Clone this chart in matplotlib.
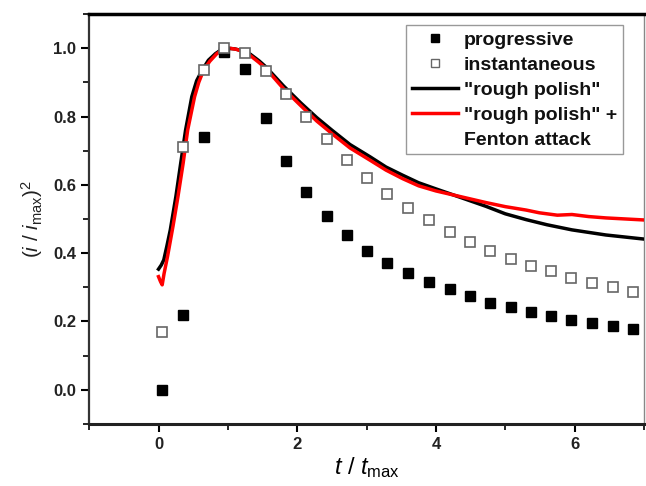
import matplotlib
matplotlib.use("Agg")
from matplotlib import pyplot as plt
from matplotlib.lines import Line2D
from matplotlib.ticker import MultipleLocator

# symbols: model transients
t_pts = [0.05, 0.35, 0.65, 0.95, 1.25, 1.55, 1.84, 2.13, 2.43, 2.72, 3.01,
         3.30, 3.60, 3.90, 4.20, 4.49, 4.78, 5.08, 5.37, 5.66, 5.95, 6.25,
         6.55, 6.84]
progressive = [0.0, 0.22, 0.74, 0.99, 0.94, 0.795, 0.67, 0.58, 0.51, 0.453,
               0.407, 0.371, 0.342, 0.316, 0.295, 0.274, 0.255, 0.242, 0.228,
               0.216, 0.205, 0.195, 0.187, 0.178]
instantaneous = [0.17, 0.71, 0.935, 1.0, 0.985, 0.932, 0.865, 0.798, 0.734,
                 0.674, 0.62, 0.574, 0.532, 0.497, 0.462, 0.433, 0.406, 0.383,
                 0.363, 0.348, 0.328, 0.313, 0.301, 0.287]

# measured curves
t_rough = [0.0, 0.04, 0.076, 0.12, 0.17, 0.25, 0.32, 0.39, 0.48, 0.55, 0.63,
           0.72, 0.82, 0.9, 1.0, 1.1, 1.2, 1.32, 1.45, 1.55, 1.8, 2.05, 2.28,
           2.5, 2.76, 3.05, 3.28, 3.52, 3.75, 4.0, 4.34, 4.72, 5.0, 5.3, 5.6,
           5.96, 6.45, 7.0]
rough = [0.353, 0.365, 0.38, 0.42, 0.468, 0.565, 0.663, 0.76, 0.858, 0.905,
         0.936, 0.965, 0.984, 0.995, 1.0, 0.998, 0.993, 0.983, 0.963, 0.945,
         0.89, 0.84, 0.797, 0.76, 0.718, 0.682, 0.652, 0.628, 0.606, 0.588,
         0.564, 0.537, 0.515, 0.498, 0.483, 0.468, 0.453, 0.441]

t_fenton = [0.0, 0.03, 0.053, 0.08, 0.13, 0.21, 0.28, 0.355, 0.42, 0.52, 0.58,
            0.65, 0.74, 0.84, 0.93, 1.02, 1.12, 1.22, 1.32, 1.45, 1.55, 1.8,
            2.05, 2.28, 2.5, 2.76, 3.05, 3.28, 3.52, 3.75, 4.0, 4.34, 4.72,
            5.0, 5.3, 5.49, 5.75, 5.96, 6.2, 6.45, 7.0]
fenton = [0.331, 0.316, 0.307, 0.34, 0.39, 0.48, 0.565, 0.663, 0.76, 0.858,
          0.9, 0.936, 0.962, 0.984, 0.996, 1.0, 0.997, 0.99, 0.979, 0.958,
          0.94, 0.882, 0.832, 0.787, 0.75, 0.708, 0.672, 0.643, 0.618, 0.597,
          0.582, 0.566, 0.548, 0.536, 0.526, 0.518, 0.511, 0.513, 0.507,
          0.503, 0.497]


def main():
    plt.rcParams['font.family'] = ['Liberation Sans', 'DejaVu Sans']
    plt.rcParams['mathtext.fontset'] = 'custom'
    plt.rcParams['mathtext.rm'] = 'Liberation Sans'
    plt.rcParams['mathtext.it'] = 'Liberation Sans:italic'

    fig = plt.figure(figsize=(6.46, 4.86), dpi=100)
    ax = fig.add_axes([0.138, 0.128, 0.859, 0.843])

    ax.plot(t_rough, rough, color='black', lw=2.5, zorder=3,
            solid_joinstyle='round')
    ax.plot(t_fenton, fenton, color='red', lw=2.5, zorder=4,
            solid_joinstyle='round')
    ax.plot(t_pts, progressive, 's', color='black', ms=7, zorder=5)
    ax.plot(t_pts, instantaneous, 's', mfc='white', mec='#666666', mew=1.2,
            ms=7, zorder=5)

    ax.set_xlim(-1, 7)
    ax.set_ylim(-0.1, 1.1)
    ax.xaxis.set_major_locator(MultipleLocator(2))
    ax.xaxis.set_minor_locator(MultipleLocator(1))
    ax.yaxis.set_major_locator(MultipleLocator(0.2))
    ax.yaxis.set_minor_locator(MultipleLocator(0.1))
    ax.yaxis.set_major_formatter(
        matplotlib.ticker.FuncFormatter(lambda v, p: "%.1f" % v))
    ax.tick_params(which='major', direction='out', length=6, width=1.5,
                   labelsize=12)
    ax.tick_params(which='minor', direction='out', length=4, width=1.2)
    ax.tick_params(top=False, right=False, which='both')
    for lbl in ax.get_xticklabels() + ax.get_yticklabels():
        lbl.set_fontweight('bold')
        lbl.set_color('#222222')

    ax.spines['top'].set_linewidth(2.5)
    ax.spines['bottom'].set_linewidth(2.2)
    ax.spines['bottom'].set_color('#222222')
    ax.spines['left'].set_linewidth(1.6)
    ax.spines['left'].set_color('#333333')
    ax.spines['right'].set_linewidth(1.0)
    ax.spines['right'].set_color('#888888')

    ax.set_xlabel(r'$t\ /\ t_{\mathrm{max}}$', fontsize=17, labelpad=2)
    ax.set_ylabel(r'$(i\ /\ i_{\mathrm{max}})^2$', fontsize=15, labelpad=6,
                  color='#222222')

    handles = [
        Line2D([], [], ls='none', marker='s', color='black', ms=5.5),
        Line2D([], [], ls='none', marker='s', mfc='white', mec='#666666',
               mew=1.0, ms=5.5),
        Line2D([], [], color='black', lw=2.5),
        Line2D([], [], color='red', lw=2.5),
        Line2D([], [], ls='none'),
    ]
    labels = ['progressive', 'instantaneous', '"rough polish"',
              '"rough polish" +', 'Fenton attack']
    leg = ax.legend(handles, labels, loc='upper right',
                    bbox_to_anchor=(0.962, 0.973), borderaxespad=0,
                    fancybox=False, edgecolor='#999999', framealpha=1,
                    handlelength=2.4, handletextpad=0.3, labelspacing=0.38,
                    borderpad=0.3,
                    prop={'weight': 'bold', 'size': 14})
    leg.get_frame().set_linewidth(1.0)
    for txt in leg.get_texts():
        txt.set_color('#111111')

    fig.savefig('out.png', dpi=100)


if __name__ == "__main__":
    main()
